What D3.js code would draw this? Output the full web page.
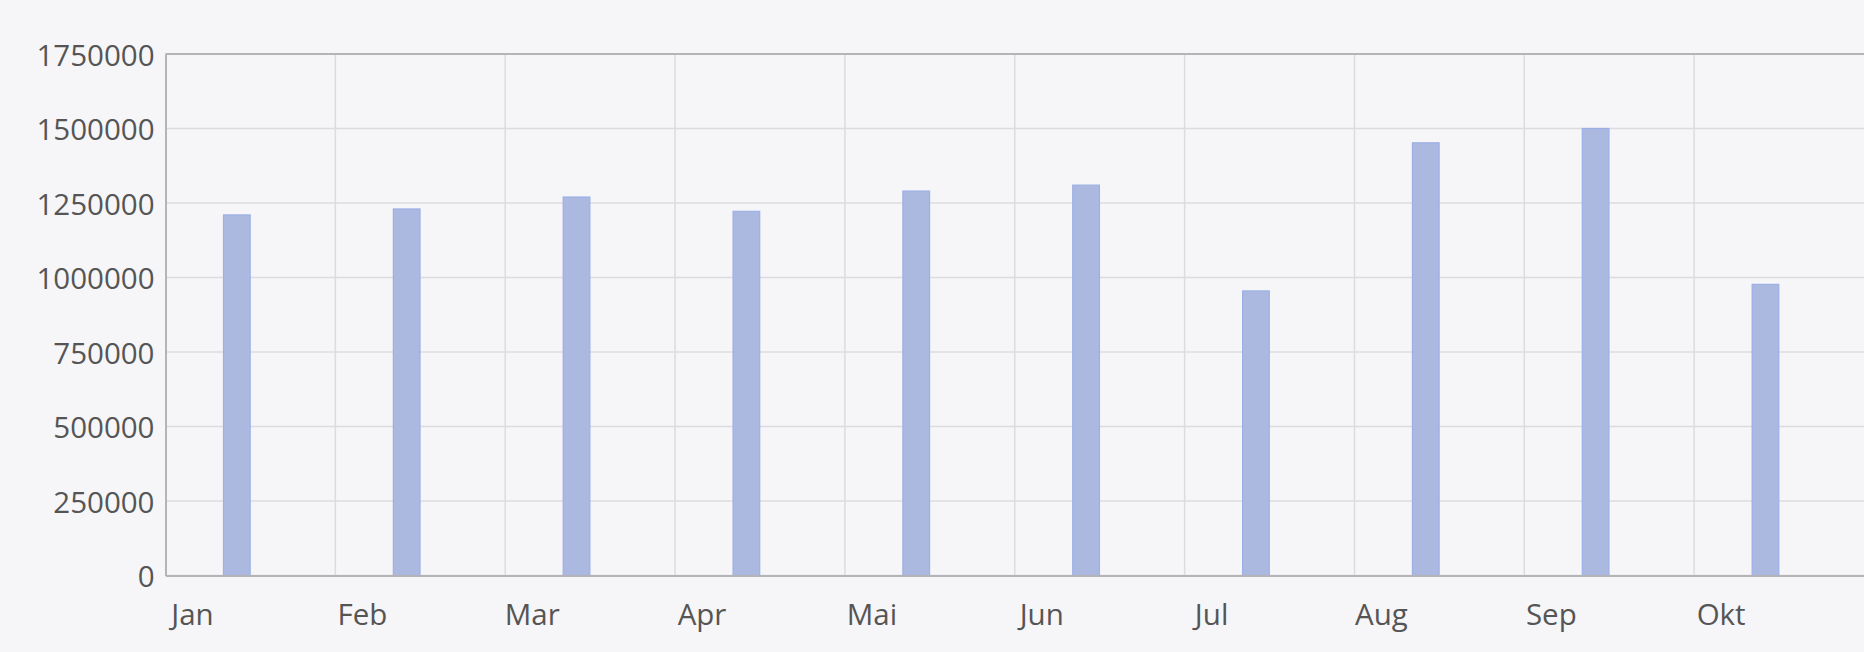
<!DOCTYPE html>
<html>
<head>
<meta charset="utf-8">
<script src="https://cdn.jsdelivr.net/npm/d3@7"></script>
<style>
  html, body { margin: 0; padding: 0; background: #f6f6f8; }
  svg { display: block; }
  text { font-family: "Open Sans", sans-serif; }
</style>
</head>
<body>
<div id="chart"></div>
<script>
const categories = ["Jan", "Feb", "Mar", "Apr", "Mai", "Jun", "Jul", "Aug", "Sep", "Okt"];
const values = [1210000, 1230000, 1270000, 1222000, 1290000, 1310000, 955000, 1452000, 1500000, 977000];
const yTicks = [0, 250000, 500000, 750000, 1000000, 1250000, 1500000, 1750000];

const W = 1864, H = 652;
const margin = { top: 54, right: 0, bottom: 76.5, left: 165.5 };

const svg = d3.select("#chart").append("svg")
  .attr("width", W).attr("height", H);

svg.append("rect").attr("width", W).attr("height", H).attr("fill", "#f6f6f8");

const x = d3.scaleBand()
  .domain(categories)
  .range([margin.left, margin.left + 10 * 169.85])
  .padding(0);

const y = d3.scaleLinear()
  .domain([0, 1750000])
  .range([H - margin.bottom, margin.top]);

const g = svg.append("g");

// horizontal gridlines
g.append("g")
  .selectAll("line")
  .data(yTicks)
  .join("line")
  .attr("x1", margin.left).attr("x2", W)
  .attr("y1", d => y(d)).attr("y2", d => y(d))
  .attr("stroke", "#dcdce0").attr("stroke-width", 1.5);

// vertical gridlines at category starts
g.append("g")
  .selectAll("line")
  .data(categories.slice(1))
  .join("line")
  .attr("x1", d => x(d)).attr("x2", d => x(d))
  .attr("y1", y(1750000)).attr("y2", y(0))
  .attr("stroke", "#dcdce0").attr("stroke-width", 1.5);

// bars
const bw = x.bandwidth();
g.append("g")
  .selectAll("rect")
  .data(categories.map((c, i) => ({ c, v: values[i] })))
  .join("rect")
  .attr("x", d => x(d.c) + bw * 0.42 - bw * 0.157 / 2)
  .attr("width", bw * 0.157)
  .attr("y", d => y(d.v))
  .attr("height", d => y(0) - y(d.v))
  .attr("fill", "#abb9e0")
  .attr("stroke", "#9cb0e6")
  .attr("stroke-width", 1.2);

// top border
g.append("line")
  .attr("x1", margin.left).attr("x2", W)
  .attr("y1", y(1750000)).attr("y2", y(1750000))
  .attr("stroke", "#b4b4b8").attr("stroke-width", 2);

// y axis
const yAxis = d3.axisLeft(y).tickValues(yTicks).tickSize(0).tickPadding(11)
  .tickFormat(d3.format("d"));
const ya = svg.append("g")
  .attr("transform", `translate(${margin.left},0)`)
  .call(yAxis);
ya.select(".domain").attr("stroke", "#b4b4b8").attr("stroke-width", 2);
ya.selectAll("text")
  .attr("font-size", 29.5)
  .attr("fill", "#555555")
  .attr("dy", "0.38em");

// x axis
const xAxis = d3.axisBottom(x).tickSize(0).tickPadding(0);
const xa = svg.append("g")
  .attr("transform", `translate(0,${y(0)})`)
  .call(xAxis);
xa.select(".domain").attr("stroke", "#b4b4b8").attr("stroke-width", 2);
xa.selectAll(".tick")
  .attr("transform", d => `translate(${x(d)},0)`);
xa.selectAll("text")
  .attr("font-size", 29.5)
  .attr("fill", "#555555")
  .attr("text-anchor", "middle")
  .attr("x", 27)
  .attr("y", 49.5)
  .attr("dy", null);
</script>
</body>
</html>
